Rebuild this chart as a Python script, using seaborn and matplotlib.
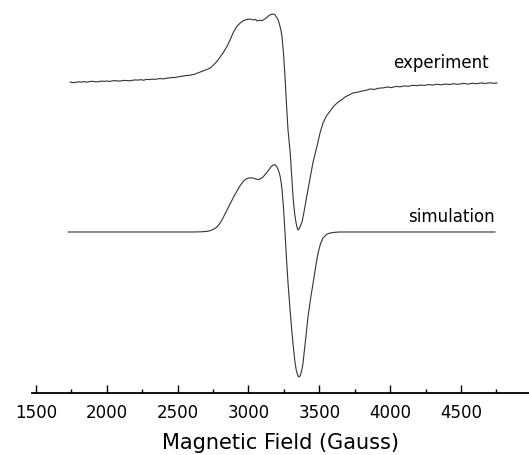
import numpy as np
import pandas as pd
import seaborn as sns
import matplotlib.pyplot as plt
from matplotlib.ticker import MultipleLocator

# field values (Gauss) and intensities (arbitrary units)
exp_field = [1740, 1760, 1780, 1800, 1820, 1840, 1860, 1880, 1900, 1920, 1940, 1960,
             1980, 2000, 2020, 2040, 2060, 2080, 2100, 2120, 2140, 2160, 2180, 2200,
             2220, 2240, 2260, 2280, 2300, 2320, 2340, 2360, 2380, 2400, 2420, 2440,
             2460, 2480, 2500, 2520, 2540, 2560, 2580, 2600, 2620, 2640, 2660, 2680,
             2700, 2715, 2729, 2745, 2760, 2775, 2790, 2805, 2821, 2835, 2850, 2870,
             2891, 2915, 2941, 2965, 2990, 3011, 3035, 3050, 3061, 3080, 3095, 3103,
             3125, 3145, 3167, 3185, 3202, 3212, 3220, 3230, 3237, 3248, 3258, 3268,
             3279, 3294, 3305, 3315, 3326, 3336, 3344, 3350, 3358, 3366, 3378, 3392,
             3413, 3435, 3456, 3484, 3505, 3526, 3550, 3576, 3600, 3625, 3650, 3682,
             3710, 3738, 3770, 3802, 3830, 3858, 3890, 3920, 3950, 3978, 4010, 4040,
             4070, 4100, 4130, 4160, 4190, 4211, 4240, 4270, 4300, 4330, 4360, 4390,
             4420, 4450, 4470, 4493, 4520, 4550, 4580, 4610, 4640, 4670, 4700, 4730,
             4755]
exp_signal = [0.0, -0.6, -0.4, 0.2, -0.1, 0.4, -0.2, 0.5, 0.7, 0.1, 0.3, 0.9,
              0.6, 1.0, 0.5, 1.2, 1.4, 0.9, 1.1, 1.6, 1.5, 1.2, 1.7, 2.1,
              1.9, 2.3, 1.8, 2.6, 2.4, 2.9, 2.6, 3.2, 3.4, 3.1, 3.8, 4.0,
              4.5, 4.4, 5.1, 5.6, 5.9, 6.5, 6.6, 7.2, 7.8, 8.9, 10.0, 11.0,
              12.2, 13.0, 14.0, 15.8, 18.0, 20.2, 23.0, 26.0, 29.0, 32.5, 36.0, 42.0,
              49.0, 55.0, 59.0, 61.5, 62.5, 63.0, 62.0, 62.6, 61.0, 61.8, 61.2, 62.0,
              64.0, 66.5, 68.0, 67.5, 64.0, 61.0, 57.0, 51.0, 45.0, 27.0, 5.0, -22.0,
              -48.0, -70.0, -94.0, -116.0, -132.0, -141.0, -146.0, -148.0, -147.0, -144.0, -140.0, -130.0,
              -113.0, -96.0, -80.0, -64.0, -51.0, -41.0, -34.0, -29.0, -24.5, -21.0, -18.5, -15.0,
              -13.0, -11.0, -10.2, -9.0, -8.3, -7.0, -7.4, -6.2, -5.9, -5.0, -5.6, -4.4,
              -4.8, -3.9, -4.3, -3.2, -3.7, -3.0, -3.4, -2.6, -3.1, -2.2, -2.8, -2.0,
              -2.5, -1.7, -2.3, -2.0, -1.4, -2.1, -1.2, -1.8, -0.9, -1.5, -0.8, -1.3,
              -1.0]

sim_field = [1726, 2600, 2650, 2679, 2705, 2728, 2755, 2778, 2800, 2820, 2845, 2870,
             2895, 2919, 2937, 2954, 2972, 2990, 3010, 3032, 3050, 3067, 3085, 3103,
             3120, 3138, 3155, 3173, 3188, 3201, 3213, 3223, 3230, 3237, 3248, 3258,
             3268, 3279, 3293, 3307, 3318, 3329, 3337, 3343, 3350, 3357, 3364, 3371,
             3378, 3385, 3402, 3420, 3438, 3456, 3474, 3491, 3508, 3526, 3550, 3576,
             3610, 3646, 4741]
sim_signal = [0.0, 0.0, 0.1, 0.3, 0.6, 1.2, 2.8, 5.0, 9.0, 14.0, 21.0, 28.0,
              35.0, 41.0, 45.5, 49.0, 51.8, 53.5, 54.2, 54.0, 53.0, 52.5, 53.2, 55.0,
              58.0, 61.0, 64.5, 67.0, 67.3, 65.0, 61.0, 56.0, 50.0, 42.0, 22.0, -1.0,
              -26.0, -51.0, -77.0, -101.0, -117.0, -131.0, -138.0, -141.0, -144.0, -145.0, -144.0, -141.0,
              -137.0, -131.0, -109.0, -85.0, -67.0, -51.0, -35.0, -21.0, -12.0, -6.0, -2.5, -1.0,
              -0.3, 0.0, 0.0]

exp_offset = 311
sim_offset = 161

exp_df = pd.DataFrame({"field": exp_field, "y": np.array(exp_signal) + exp_offset})
sim_df = pd.DataFrame({"field": sim_field, "y": np.array(sim_signal) + sim_offset})

sns.set_style("white")
plt.rcParams['font.family'] = ['DejaVu Sans']
plt.rcParams['text.color'] = 'black'
plt.rcParams['axes.labelcolor'] = 'black'

fig = plt.figure(figsize=(5.29, 4.55), dpi=100)
ax = fig.add_axes([0.0605, 0.1363, 0.9395, 0.8637])

sns.lineplot(data=exp_df, x="field", y="y", ax=ax, color="#333333", linewidth=0.8, sort=False)
sns.lineplot(data=sim_df, x="field", y="y", ax=ax, color="#333333", linewidth=0.8, sort=False)

ax.text(4360, 330, "experiment", fontsize=12, ha="center", va="center", color="black")
ax.text(4431, 176, "simulation", fontsize=12, ha="center", va="center", color="black")

ax.set_xlim(1472, 4980)
ax.set_ylim(0, 393)

for s in ["top", "right", "left"]:
    ax.spines[s].set_visible(False)
ax.spines["bottom"].set_linewidth(1.3)
ax.spines["bottom"].set_color("black")

ax.xaxis.set_major_locator(MultipleLocator(500))
ax.xaxis.set_minor_locator(MultipleLocator(250))
ax.tick_params(axis="x", which="both", bottom=True)
ax.tick_params(axis="x", which="major", direction="in", length=6, width=1, pad=8,
               labelsize=12, colors="black")
ax.tick_params(axis="x", which="minor", direction="in", length=3, width=1, colors="black")
ax.set_yticks([])
ax.set_xlabel("Magnetic Field (Gauss)", fontsize=15, labelpad=8, color="black")
ax.set_ylabel("")

fig.savefig("out.png", dpi=100)
